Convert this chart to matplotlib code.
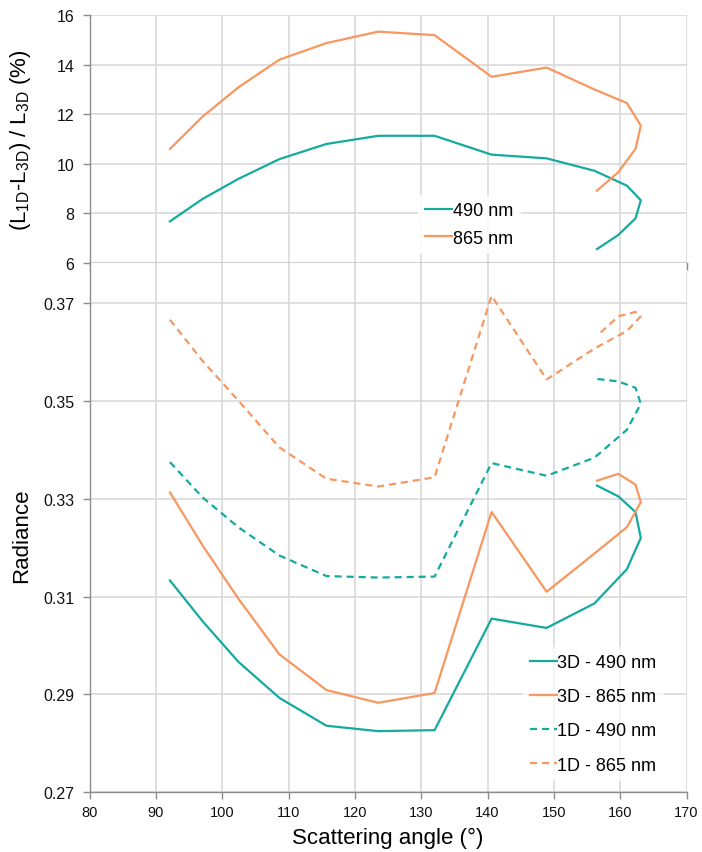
import matplotlib
matplotlib.use("Agg")
import matplotlib.pyplot as plt

plt.rcParams['font.family'] = ['Liberation Sans', 'DejaVu Sans']
plt.rcParams['mathtext.default'] = 'regular'

# scattering angles (the scan folds back near backscatter)
angle = [92.1, 97.0, 102.4, 108.6, 115.7, 123.5, 132.0, 140.6, 148.9,
         156.1, 161.0, 163.1, 162.3, 159.7, 156.5]

# relative difference (L1D-L3D)/L3D in %
diff_490 = [7.68, 8.58, 9.39, 10.19, 10.80, 11.13, 11.13, 10.37, 10.22,
            9.72, 9.12, 8.53, 7.80, 7.13, 6.56]
diff_865 = [10.60, 11.90, 13.08, 14.20, 14.87, 15.33, 15.19, 13.51, 13.88,
            13.00, 12.45, 11.54, 10.60, 9.66, 8.92]

# radiances
rad_3d_490 = [0.3133, 0.3050, 0.2967, 0.2893, 0.2836, 0.2825, 0.2827, 0.3055,
              0.3036, 0.3086, 0.3156, 0.3220, 0.3273, 0.3305, 0.3327]
rad_3d_865 = [0.3313, 0.3205, 0.3096, 0.2982, 0.2909, 0.2883, 0.2903, 0.3273,
              0.3110, 0.3188, 0.3242, 0.3293, 0.3329, 0.3351, 0.3337]
rad_1d_490 = [0.3375, 0.3303, 0.3242, 0.3184, 0.3142, 0.3139, 0.3141, 0.3373,
              0.3347, 0.3384, 0.3441, 0.3494, 0.3527, 0.3540, 0.3545]
rad_1d_865 = [0.3666, 0.3582, 0.3501, 0.3405, 0.3341, 0.3325, 0.3344, 0.3715,
              0.3544, 0.3607, 0.3643, 0.3673, 0.3682, 0.3673, 0.3633]

x_ticks = [80, 90, 100, 110, 120, 130, 140, 150, 160, 170]
top_yticks = [6, 8, 10, 12, 14, 16]
bot_yticks = [0.27, 0.29, 0.31, 0.33, 0.35, 0.37]

teal = '#14aaa0'
orange = '#f8975f'
grid_c = '#d9d9d9'
axis_c = '#8c8c8c'
lw = 1.6
dash = (0, (3.2, 2.2))

fig = plt.figure(figsize=(7.02, 8.53), dpi=100)
left, width = 0.1278, 0.8502
ax_top = fig.add_axes([left, 0.6905, width, 0.2907])
ax_bot = fig.add_axes([left, 0.070, width, 0.6205])


def style(ax):
    ax.set_xlim(80, 170)
    ax.set_xticks(x_ticks)
    ax.grid(True, color=grid_c, linewidth=1.2)
    ax.set_axisbelow(True)
    for s in ['top', 'right']:
        ax.spines[s].set_visible(False)
    for s in ['left', 'bottom']:
        ax.spines[s].set_color(axis_c)
        ax.spines[s].set_linewidth(1.0)
    ax.tick_params(axis='both', direction='out', length=5, width=1.0,
                   color=axis_c, labelcolor='#111111')
    ax.tick_params(axis='x', labelsize=10.5, pad=4)
    ax.tick_params(axis='y', labelsize=11.5, pad=6)


# bottom panel: radiances
style(ax_bot)
ax_bot.plot(angle, rad_3d_490, color=teal, lw=lw, label='3D - 490 nm')
ax_bot.plot(angle, rad_3d_865, color=orange, lw=lw, label='3D - 865 nm')
ax_bot.plot(angle, rad_1d_490, color=teal, lw=lw, linestyle=dash, label='1D - 490 nm')
ax_bot.plot(angle, rad_1d_865, color=orange, lw=lw, linestyle=dash, label='1D - 865 nm')
ax_bot.set_ylim(0.27, 0.3782)
ax_bot.set_yticks(bot_yticks)
ax_bot.set_yticklabels(['%.2f' % v for v in bot_yticks])
ax_bot.set_xticklabels([str(v) for v in x_ticks])
ax_bot.set_xlabel('Scattering angle (°)', fontsize=16, labelpad=6)
ax_bot.set_ylabel('Radiance', fontsize=16)
ax_bot.yaxis.set_label_coords(-0.096, 0.486)
leg = ax_bot.legend(loc='lower right', bbox_to_anchor=(0.968, 0.015), fontsize=13,
                    frameon=True, framealpha=0.75, edgecolor='none',
                    handlelength=1.5, handletextpad=0.05, labelspacing=0.95,
                    borderaxespad=0.2)
leg.get_frame().set_boxstyle('square', pad=0.0)

# top panel: relative difference
style(ax_top)
ax_top.plot(angle, diff_490, color=teal, lw=lw, label='490 nm')
ax_top.plot(angle, diff_865, color=orange, lw=lw, label='865 nm')
ax_top.set_ylim(6, 16)
ax_top.set_yticks(top_yticks)
ax_top.set_xticklabels([])
ax_top.set_ylabel(r'(L$_{1D}$-L$_{3D}$) / L$_{3D}$ (%)', fontsize=16)
ax_top.yaxis.set_label_coords(-0.095, 0.5)
leg2 = ax_top.legend(loc='lower left', bbox_to_anchor=(0.535, 0.0), fontsize=13,
                     frameon=True, framealpha=0.85, edgecolor='none',
                     handlelength=1.5, handletextpad=0.05, labelspacing=0.6)
leg2.get_frame().set_boxstyle('square', pad=0.0)

fig.savefig('out.png', dpi=100, facecolor='white')
